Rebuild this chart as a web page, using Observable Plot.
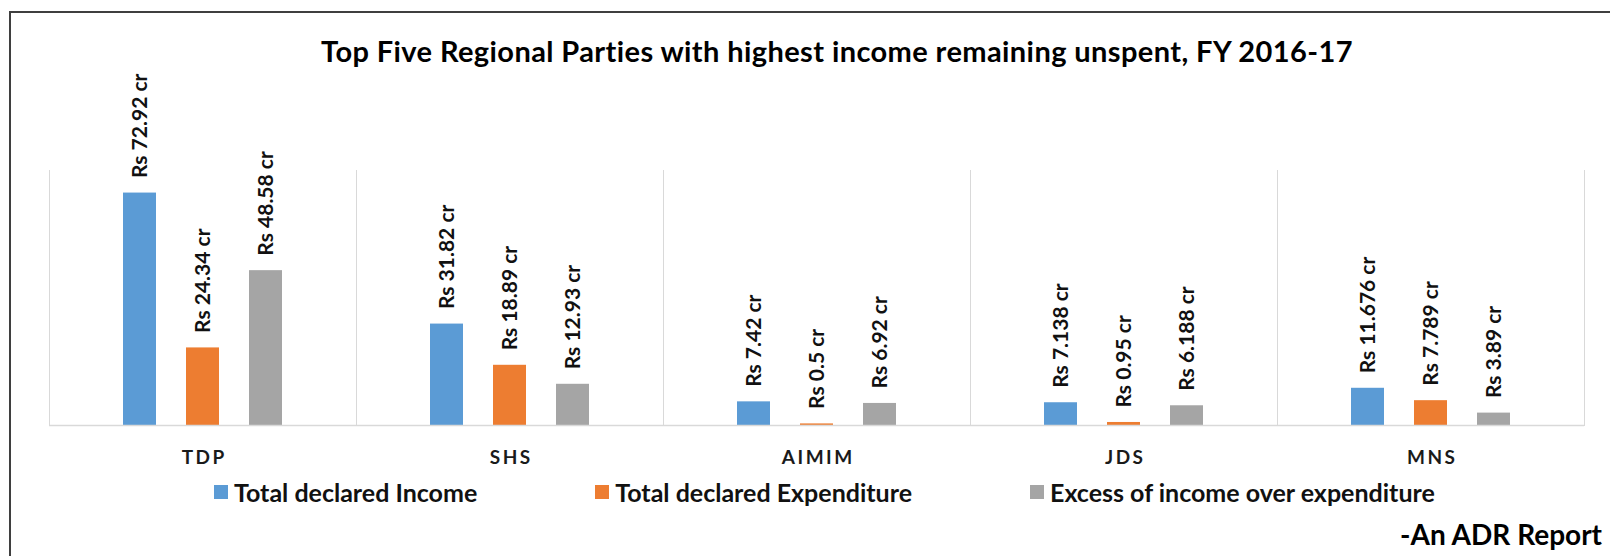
<!DOCTYPE html>
<html><head><meta charset="utf-8">
<script src="https://cdn.jsdelivr.net/npm/d3@7"></script>
<script src="https://cdn.jsdelivr.net/npm/@observablehq/plot@0.6"></script>
<style>
html,body{margin:0;padding:0;background:#fff;}
#wrap{position:relative;width:1610px;height:556px;overflow:hidden;font-family:Lato,sans-serif;}
#border{position:absolute;left:9px;top:11px;width:1700px;height:700px;border-left:2px solid #3f3f3f;border-top:2px solid #3f3f3f;}
#title{position:absolute;left:0;width:1674px;top:34px;text-align:center;font-weight:bold;font-size:29px;letter-spacing:0.4px;color:#000;white-space:nowrap;line-height:1.2;}
#chart{position:absolute;left:0;top:0;}
#legend{position:absolute;left:214px;top:477px;display:flex;gap:118px;align-items:center;font-weight:bold;font-size:25px;color:#111;white-space:nowrap;line-height:30px;}
#legend .item{display:flex;align-items:center;}
#legend .sw{width:14px;height:14px;margin-right:6px;display:inline-block;}
#footer{position:absolute;right:8px;top:517px;font-weight:bold;font-size:28px;color:#000;line-height:34px;}
g[aria-label="fx-axis tick label"] text{letter-spacing:2.5px;}
</style>
</head><body>
<div id="wrap">
  <div id="border"></div>
  <div id="chart"></div>
  <div id="title"></div>
  <div id="legend"></div>
  <div id="footer"></div>
</div>
<script>
const titleText = "Top Five Regional Parties with highest income remaining unspent, FY 2016-17";
const footerText = "-An ADR Report";
const parties = ["TDP", "SHS", "AIMIM", "JDS", "MNS"];
const seriesNames = ["Total declared Income", "Total declared Expenditure", "Excess of income over expenditure"];
const seriesColors = ["#5B9BD5", "#ED7D31", "#A5A5A5"];
const income = [72.92, 31.82, 7.42, 7.138, 11.676];
const expenditure = [24.34, 18.89, 0.5, 0.95, 7.789];
const excess = [48.58, 12.93, 6.92, 6.188, 3.89];

const seriesValues = [income, expenditure, excess];
const data = parties.flatMap((p, i) => seriesNames.map((s, j) => ({party: p, series: s, value: seriesValues[j][i]})));

document.getElementById("title").textContent = titleText;
document.getElementById("footer").textContent = footerText;
const legend = document.getElementById("legend");
seriesNames.forEach((s, j) => {
  const item = document.createElement("div");
  item.className = "item";
  const sw = document.createElement("span");
  sw.className = "sw";
  sw.style.background = seriesColors[j];
  const t = document.createElement("span");
  t.textContent = s;
  item.appendChild(sw); item.appendChild(t);
  legend.appendChild(item);
});

const chart = Plot.plot({
  width: 1610, height: 480,
  marginTop: 170, marginBottom: 55, marginLeft: 47, marginRight: 25,
  fx: {domain: parties, padding: 0, label: null},
  x: {domain: seriesNames, paddingInner: 0.48, paddingOuter: 1.165, axis: null},
  y: {domain: [0, 80], axis: null},
  color: {domain: seriesNames, range: seriesColors},
  style: {fontFamily: "Lato, sans-serif", background: "transparent", overflow: "visible"},
  marks: [
    Plot.frame({anchor: "left", stroke: "#d9d9d9"}),
    Plot.frame({anchor: "right", stroke: "#d9d9d9"}),
    Plot.barY(data, {fx: "party", x: "series", y: "value", fill: "series"}),
    Plot.ruleY([0], {stroke: "#d9d9d9", strokeWidth: 1.5}),
    Plot.text(data, {fx: "party", x: "series", y: "value", text: d => `Rs ${d.value} cr`, rotate: -90, textAnchor: "start", dy: -15, fontSize: 21, fontWeight: "bold", fill: "#111"}),
    Plot.axisFx({anchor: "bottom", tickSize: 0, tickPadding: 25, fontSize: 19, fontWeight: "bold", dx: 1.25, label: null, fill: "#1a1a1a"})
  ]
});
document.getElementById("chart").appendChild(chart);
</script>
</body></html>
